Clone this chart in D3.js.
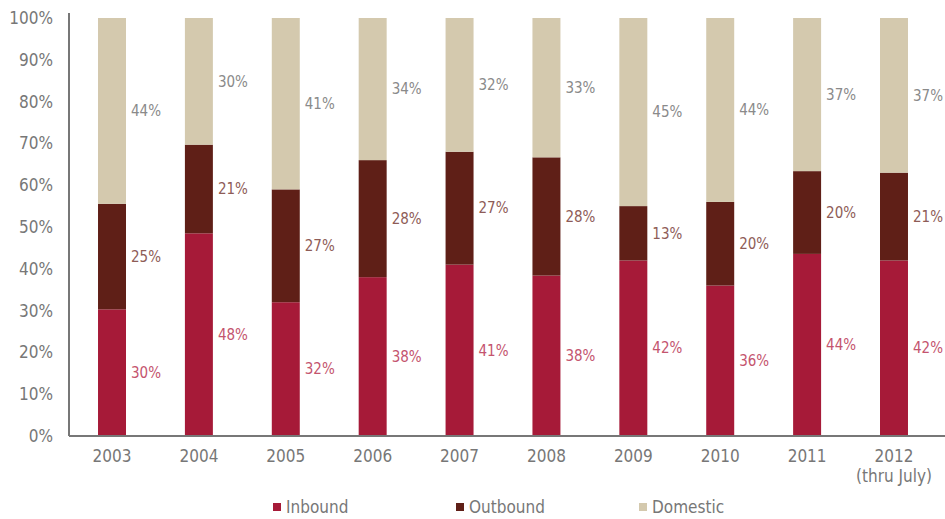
<!DOCTYPE html>
<html>
<head>
<meta charset="utf-8">
<script src="https://cdn.jsdelivr.net/npm/d3@7"></script>
<style>
  body { margin: 0; background: #fff; }
  svg text { font-family: "Liberation Sans Narrow", "DejaVu Sans Condensed", "Roboto", sans-serif; font-stretch: condensed; }
</style>
</head>
<body>
<svg id="chart"></svg>
<script>
const years = ["2003", "2004", "2005", "2006", "2007", "2008", "2009", "2010", "2011", "2012"];
const inbound = [30, 48, 32, 38, 41, 38, 42, 36, 44, 42];
const outbound = [25, 21, 27, 28, 27, 28, 13, 20, 20, 21];
const domestic = [44, 30, 41, 34, 32, 33, 45, 44, 37, 37];
const yTicks = [0, 10, 20, 30, 40, 50, 60, 70, 80, 90, 100];

const seriesNames = ["Inbound", "Outbound", "Domestic"];
const fills = ["#a61a38", "#5f1f17", "#d4c9ae"];
const labelColors = ["#c4546e", "#8e5c57", "#8a8a8a"];

const width = 945, height = 519;
const margin = { top: 18, right: 8, bottom: 83, left: 69 };

const svg = d3.select("#chart").attr("width", width).attr("height", height);

const x = d3.scaleBand()
  .domain(years)
  .range([margin.left, width - margin.right])
  .paddingInner(0.678)
  .paddingOuter(0.334);

const y = d3.scaleLinear()
  .domain([0, 100])
  .range([height - margin.bottom, margin.top]);

// build rows, normalised to 100%
const rows = years.map((yr, i) => {
  const vals = [inbound[i], outbound[i], domestic[i]];
  const total = d3.sum(vals);
  return { year: yr, vals, total };
});

const segs = [];
rows.forEach(r => {
  let acc = 0;
  r.vals.forEach((v, k) => {
    const y0 = acc / r.total * 100;
    acc += v;
    const y1 = acc / r.total * 100;
    segs.push({ year: r.year, k, v, y0, y1 });
  });
});

// bars
svg.append("g").selectAll("rect")
  .data(segs)
  .join("rect")
  .attr("x", d => x(d.year))
  .attr("width", x.bandwidth())
  .attr("y", d => y(d.y1))
  .attr("height", d => y(d.y0) - y(d.y1))
  .attr("fill", d => fills[d.k]);

// value labels
svg.append("g").selectAll("text")
  .data(segs)
  .join("text")
  .attr("x", d => x(d.year) + x.bandwidth() + 5)
  .attr("y", d => y((d.y0 + d.y1) / 2))
  .attr("dy", "0.35em")
  .attr("fill", d => labelColors[d.k])
  .style("font-size", "15px")
  .text(d => d.v + "%");

// y axis
const yAxis = svg.append("g")
  .attr("transform", `translate(${margin.left},0)`)
  .call(d3.axisLeft(y).tickValues(yTicks).tickSize(0).tickPadding(16).tickFormat(d => d + "%"));
yAxis.select(".domain").attr("stroke", "#777").attr("stroke-width", 2)
  .attr("d", `M0,${margin.top - 5}V${height - margin.bottom}`);
yAxis.selectAll("text").attr("fill", "#777").style("font-size", "17px");

// x axis
const xAxis = svg.append("g")
  .attr("transform", `translate(0,${height - margin.bottom})`)
  .call(d3.axisBottom(x).tickSize(0).tickPadding(14));
xAxis.select(".domain").attr("stroke", "#777").attr("stroke-width", 2)
  .attr("d", `M${margin.left},0H${width}`);
xAxis.selectAll("text").attr("fill", "#777").style("font-size", "17px");
xAxis.selectAll(".tick")
  .filter(d => d === "2012")
  .append("text")
  .attr("y", 14)
  .attr("dy", "1.91em")
  .attr("fill", "#777")
  .attr("text-anchor", "middle")
  .style("font-size", "17px")
  .text("(thru July)");

// legend
const legendX = [273, 456, 639];
const legend = svg.append("g").selectAll("g")
  .data(seriesNames)
  .join("g")
  .attr("transform", (d, i) => `translate(${legendX[i]},507)`);
legend.append("rect")
  .attr("x", 0).attr("y", -4)
  .attr("width", 8).attr("height", 8)
  .attr("fill", (d, i) => fills[i]);
legend.append("text")
  .attr("x", 13)
  .attr("dy", "0.35em")
  .attr("fill", "#777")
  .style("font-size", "17px")
  .text(d => d);
</script>
</body>
</html>
